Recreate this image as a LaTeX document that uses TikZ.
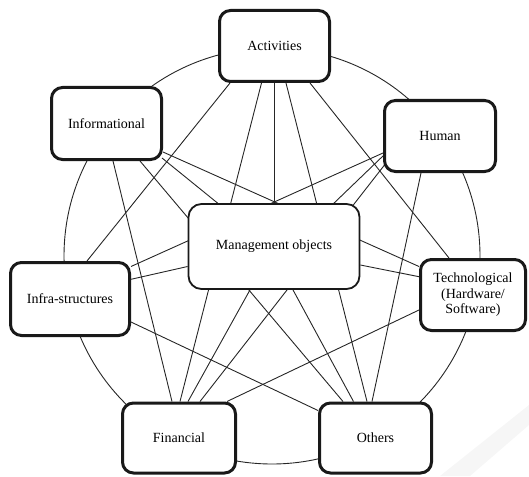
\documentclass[tikz,border=0pt]{standalone}
\usepackage{fontspec}
\setmainfont{Liberation Serif}
\usetikzlibrary{calc}
\pgfdeclarelayer{background}
\pgfsetlayers{background,main}
\begin{document}
\begin{tikzpicture}[x=1pt,y=-1pt,
  obox/.style={draw=black!90, line width=3pt, rounded corners=11pt, fill=white,
    align=center, inner sep=0pt, font=\fontsize{14}{15.5}\selectfont},
  mbox/.style={draw=black!90, line width=1.8pt, rounded corners=13pt, fill=white,
    align=center, inner sep=0pt, font=\fontsize{14}{15.5}\selectfont},
  link/.style={draw=black!85, line width=0.9pt}]
\useasboundingbox (0,0) rectangle (529,476);
% nodes
\path
  (274.5,46)   node[obox, minimum width=110pt, minimum height=71pt] (A) {Activities}
  (106.5,123.5) node[obox, minimum width=110pt, minimum height=72pt] (N) {Informational}
  (440,136)    node[obox, minimum width=111pt, minimum height=71pt] (H) {Human}
  (274,246.5)  node[mbox, minimum width=171pt, minimum height=85pt] (M) {Management objects}
  (70,299)     node[obox, minimum width=119pt, minimum height=73pt] (I) {Infra-structures}
  (473,295)    node[obox, minimum width=105pt, minimum height=71pt] (T) {Technological\\(Hardware/\\Software)}
  (179,438)    node[obox, minimum width=113pt, minimum height=70pt] (F) {Financial}
  (375.5,438)  node[obox, minimum width=112pt, minimum height=70pt] (O) {Others};
\begin{pgfonlayer}{background}
\fill[gray!7] (440,476) -- (529,405) -- (529,425) -- (470,476) -- cycle;
% outer circle
\draw[link] (272,256) circle[radius=208pt];
% connectors
\begin{scope}[link]
\draw ($(A.south)+(-44.5,0)$) -- ($(I.north)+(17,0)$);
\draw ($(A.south)+(-13,0)$) -- ($(F.north)+(1,0)$);
\draw (A.south) -- (A.south |- M.north);
\draw ($(A.south)+(11.5,0)$) -- ($(O.north)+(-8.5,0)$);
\draw ($(A.south)+(35.5,0)$) -- ($(T.north)+(-24,0)$);
\draw ($(N.east)+(0,3)$) -- ($(N.east)+(0,3)$ -| H.west);
\draw ($(N.east)+(0,28.5)$) -- ($(T.west)+(0,-28.5)$);
\draw ($(H.west)+(0,17)$) -- ($(I.east)+(0,-32.5)$);
\draw ($(N.south east)+(-1,-3)$) -- ($(M.north)+(-56.4,0)$);
\draw ($(H.west)+(1,19)$) -- ($(M.north)+(60,0)$);
\draw ($(N.south)+(33.5,0)$) -- ($(O.north)+(-32.5,0)$);
\draw ($(N.south)+(6.5,0)$) -- ($(F.north)+(-7,0)$);
\draw ($(H.south)+(-19,0)$) -- ($(O.north)+(-3.5,0)$);
\draw ($(H.west)+(1.5,29)$) -- ($(F.north)+(21,0)$);
\draw ($(I.east)+(0,1)$) -- ($(I.east)+(0,1)$ -| T.west);
\draw ($(I.east)+(0,23)$) -- ($(O.west)+(0,-27.5)$);
\draw ($(T.west)+(0,15)$) -- ($(F.north)+(48,0)$);
\draw ($(M.south)+(-24,0)$) -- ($(F.north)+(9,0)$);
\draw ($(M.south)+(19,0)$) -- ($(O.north)+(-22,0)$);
\draw ($(M.west)+(0,20)$) -- ($(I.east)+(0,-19.7)$);
\draw ($(M.east)+(0,18.5)$) -- ($(T.west)+(0,-18.3)$);
\end{scope}
\end{pgfonlayer}
\end{tikzpicture}
\end{document}
